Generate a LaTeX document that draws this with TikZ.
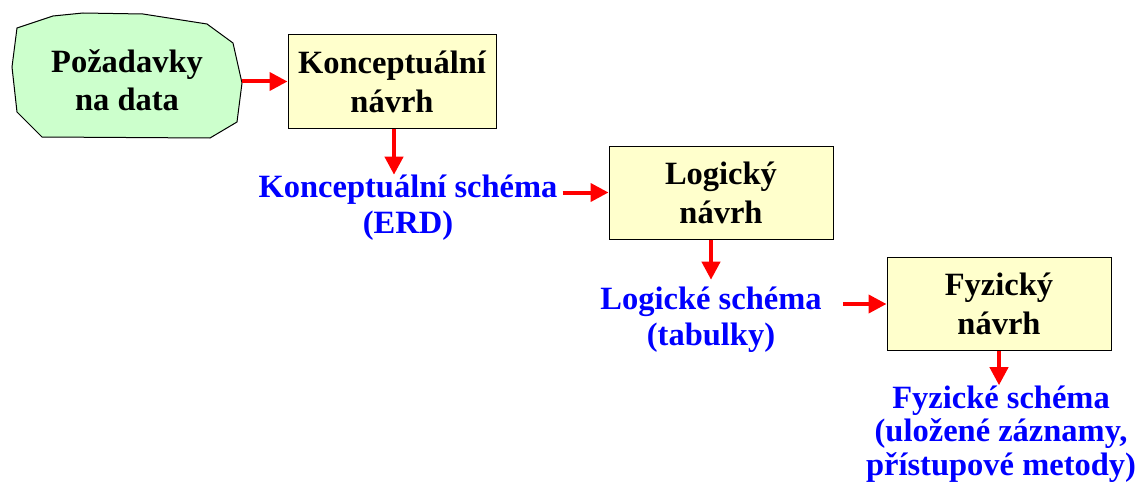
\documentclass[tikz,border=0pt]{standalone}
\usepackage{fontspec}
\setmainfont{Liberation Serif}
\usetikzlibrary{arrows.meta,calc}
\definecolor{boxfill}{HTML}{FFFFCC}
\definecolor{blobfill}{HTML}{CCFFCC}
\definecolor{schblue}{RGB}{0,0,255}
\definecolor{arrred}{RGB}{255,0,0}
\begin{document}
\begin{tikzpicture}[x=1pt,y=-1pt,
  stepbox/.style={draw=black,line width=1pt,fill=boxfill,minimum width=224pt,minimum height=93pt,inner sep=0pt,align=center,font=\fontsize{32.5}{39}\selectfont\bfseries},
  schema/.style={text=schblue,align=center,inner sep=0pt,anchor=base,font=\fontsize{32.5}{35.5}\selectfont\bfseries},
  arr/.style={draw=arrred,line width=4pt,-{Triangle[length=18pt,width=18pt]}}]
\useasboundingbox (0,0) rectangle (1139,492);
% blob
\draw[fill=blobfill,line width=1pt] (17,28) -- (53,16) -- (83,13) -- (143,14) -- (207,24) -- (233,43) -- (242,83) -- (237,122) -- (210,138) -- (42,137) -- (17,112) -- (12,67) -- cycle;
\node[align=center,inner sep=0pt,minimum width=230pt,font=\fontsize{32.5}{38}\selectfont\bfseries] (req) at (127,80) {Požadavky\\na data};
% boxes
\node[stepbox,minimum width=208pt] (k1) at (392,81.5) {Konceptuální\\návrh};
\node[stepbox] (k2) at (721,192.5) {Logický\\návrh};
\node[stepbox] (k3) at (999,304) {Fyzický\\návrh};
% schema texts
\node[schema] (cs) at (408,233) {Konceptuální schéma\\(ERD)};
\node[schema] (ls) at (711,345) {Logické schéma\\(tabulky)};
\node[schema,font=\fontsize{32.5}{33.5}\selectfont\bfseries] (fs) at (1001,475) {Fyzické schéma\\(uložené záznamy,\\přístupové metody)};
% arrows
\draw[arr] (k1.west -| req.east) -- (k1.west);
\draw[arr] ([xshift=2pt]k1.south) -- ([xshift=2pt]k1.south |- cs.north);
\draw[arr] ([xshift=5pt]k2.west -| cs.east) -- (k2.west);
\draw[arr,shorten >=7pt] (k2.south -| ls.north) -- (ls.north);
\draw[arr] ([xshift=21pt]ls.east |- k3.west) -- (k3.west);
\draw[arr] (k3.south) -- (k3.south |- fs.north);
\end{tikzpicture}
\end{document}
